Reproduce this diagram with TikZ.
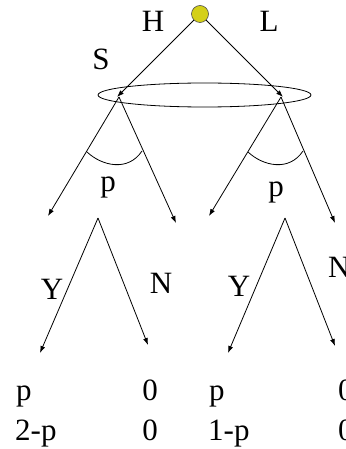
\documentclass[tikz,border=0pt]{standalone}
\usepackage{fontspec}
\setmainfont{Liberation Serif}
\usetikzlibrary{arrows.meta}
\definecolor{nodeyellow}{RGB}{212,208,24}
\begin{document}
\begin{tikzpicture}[x=1pt,y=-1pt,
  edge/.style={line width=0.8pt,draw=black},
  arr/.style={edge,-{Latex[length=7pt,width=5pt]}},
  lbl/.style={font=\fontsize{31}{31}\selectfont,anchor=base,inner sep=0pt},
  lbll/.style={lbl,anchor=base west}]
\useasboundingbox (0,0) rectangle (345,449);
\clip (0,0) rectangle (345,449);
% nodes
\node[circle,fill=nodeyellow,draw=black!70,line width=0.6pt,minimum size=17pt,inner sep=0pt] (root) at (200,14) {};
\coordinate (A) at (117,97);
\coordinate (B) at (283,97);
\coordinate (Ao) at (119,97);
\coordinate (Bo) at (281,97);
\coordinate (A1) at (48,216);
\coordinate (A2) at (176,223);
\coordinate (B1) at (209,216);
\coordinate (B2) at (335,223);
\coordinate (C) at (98,218);
\coordinate (D) at (285,218);
\coordinate (C1) at (40,353);
\coordinate (C2) at (148,345);
\coordinate (D1) at (228,353);
\coordinate (D2) at (335,346);
% info set
\draw[edge] (204.5,95) ellipse [x radius=106.5, y radius=12];
% edges
\draw[arr] (root) -- (A);
\draw[arr] (root) -- (B);
\draw[arr] (Ao) -- (A1);
\draw[arr] (Ao) -- (A2);
\draw[arr] (Bo) -- (B1);
\draw[arr] (Bo) -- (B2);
\draw[arr] (C) -- (C1);
\draw[arr] (C) -- (C2);
\draw[arr] (D) -- (D1);
\draw[arr] (D) -- (D2);
% angle arcs
\draw[edge] (87,152) .. controls (102,166) and (128,172) .. (142,151);
\draw[edge] (248,152) .. controls (263,166) and (289,172) .. (303,151);
% labels
\node[lbl] (lH) at (153,32) {H};
\node[lbl] (lL) at (269,32) {L};
\node[lbl] (lS) at (101,70) {S};
\node[lbl] (lp1) at (108,191) {p};
\node[lbl] (lp2) at (276,196) {p};
\node[lbl] (lY1) at (52,299) {Y};
\node[lbl] (lN1) at (161,293) {N};
\node[lbl] (lY2) at (239,296) {Y};
\node[lbl,anchor=base west] (lN2) at (328,277) {N};
\node[lbll] (r1) at (16,400) {p};
\node[lbll] (r2) at (15,440) {2-p};
\node[lbl] (r3) at (150,400) {0};
\node[lbl] (r4) at (150,440) {0};
\node[lbll] (r5) at (209,400) {p};
\node[lbll] (r6) at (208,440) {1-p};
\node[lbll] (r7) at (338,400) {0};
\node[lbll] (r8) at (338,440) {0};
\end{tikzpicture}
\end{document}
